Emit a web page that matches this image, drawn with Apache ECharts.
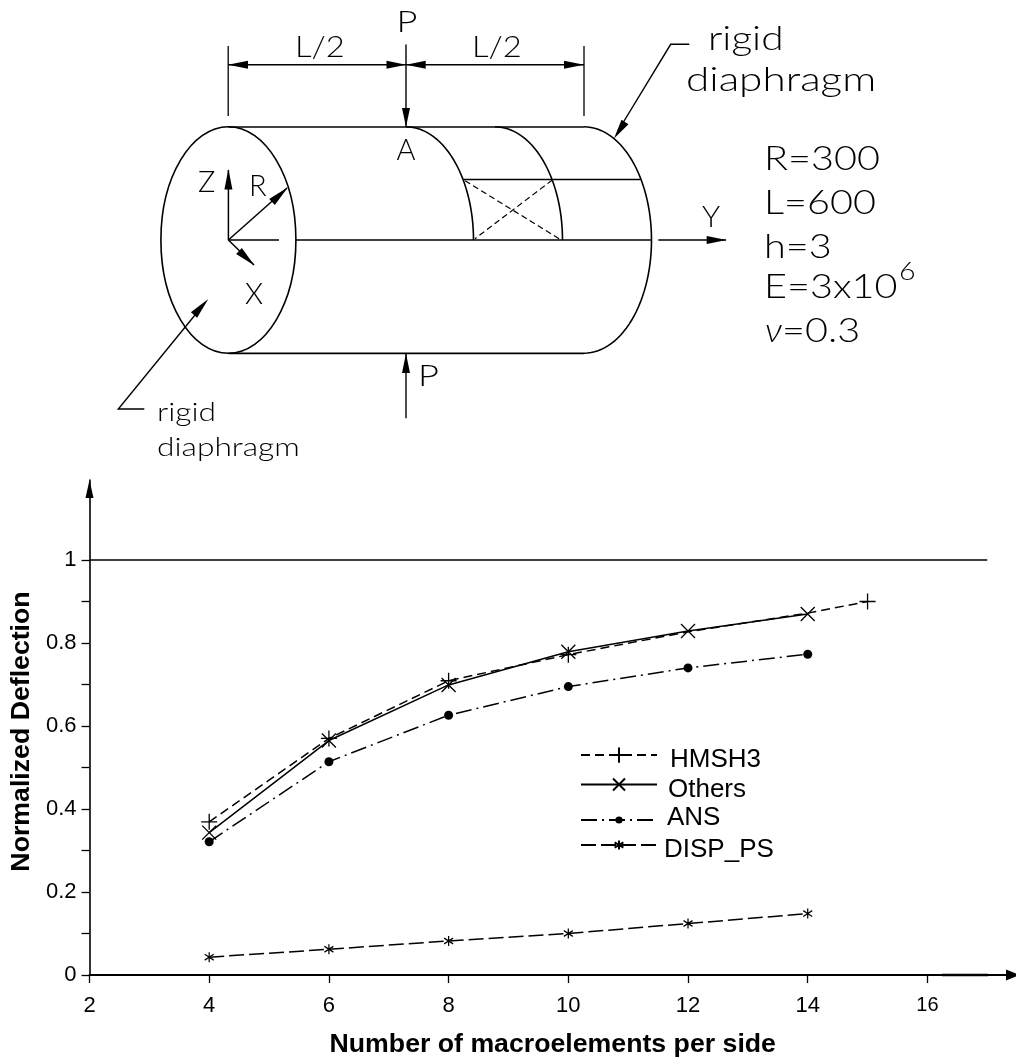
<!DOCTYPE html>
<html><head><meta charset="utf-8">
<style>html,body{margin:0;padding:0;background:#fff}#main{width:1016px;height:1059px}</style>
<script src="https://cdn.jsdelivr.net/npm/echarts@6/dist/echarts.min.js"></script>
</head><body><div id="main"></div>
<script>
const macroelements15 = [4, 6, 8, 10, 12, 14, 15];
const macroelements14 = [4, 6, 8, 10, 12, 14];
const hmsh3 = [0.369, 0.570, 0.709, 0.772, 0.827, 0.872, 0.900];
const others = [0.343, 0.565, 0.699, 0.779, 0.829, 0.870];
const ans = [0.321, 0.514, 0.626, 0.695, 0.740, 0.773];
const dispPs = [0.043, 0.062, 0.082, 0.100, 0.124, 0.148];
const hmsh3Unmarked = [12, 14];
const exactX = [2, 17];
const exactY = [1, 1];
const xTickValues = [2, 4, 6, 8, 10, 12, 14, 16];
const yTickValues = [0, 0.1, 0.2, 0.3, 0.4, 0.5, 0.6, 0.7, 0.8, 0.9, 1];
const yLabelValues = [0, 0.2, 0.4, 0.6, 0.8, 1];

const zip = (a, b) => a.map((v, i) => [v, b[i]]);
const BLACK = '#000';
const SANS = '"Liberation Sans", Arial, sans-serif';
const CAD = 'Lato, "Open Sans", sans-serif';

/* ---- schematic of the cylinder, drawn as plain graphic elements ---- */
const g = [];
const strokeStyle = (w, dash) => ({ stroke: BLACK, fill: 'none', lineWidth: w || 1.3, lineDash: dash || null });
const poly = (points, w, dash) => g.push({ type: 'polyline', shape: { points }, style: strokeStyle(w, dash), silent: true });
const arc = (cx, cy, rx, ry, from, to, w) => {
  const pts = [];
  for (let a = from; a <= to; a += 3) {
    const t = a * Math.PI / 180;
    pts.push([cx + rx * Math.sin(t), cy - ry * Math.cos(t)]);
  }
  poly(pts, w);
};
const arrow = (tx, ty, bx, by, hw) => {
  const dx = tx - bx, dy = ty - by, l = Math.hypot(dx, dy), nx = -dy / l * hw, ny = dx / l * hw;
  g.push({ type: 'polygon', shape: { points: [[tx, ty], [bx + nx, by + ny], [bx - nx, by - ny]] }, style: { fill: BLACK }, silent: true });
};
const label = (text, x, y, size, sx, extra) => g.push({
  type: 'text', x, y, scaleX: sx || 1, silent: true,
  style: Object.assign({ text, fill: BLACK, fontFamily: CAD, fontWeight: 300, fontSize: size, textAlign: 'left', textVerticalAlign: 'bottom' }, extra || {})
});

const RX = 67.5, RY = 113.2, CY = 240;
g.push({ type: 'ellipse', shape: { cx: 228.4, cy: CY, rx: RX, ry: RY }, style: strokeStyle(1.6), silent: true });
poly([[228.4, 127], [584, 127]], 1.6);
poly([[228.4, 353.4], [584, 353.4]], 1.6);
arc(584, CY, RX, RY, 0, 180, 1.6);
arc(406, CY, RX, RY, 0, 90, 1.6);
arc(495, CY, RX, RY, 0, 90, 1.6);
poly([[296, 240], [651, 240]], 1.6);
poly([[228.4, 240], [279, 240]], 1.5);
poly([[463.5, 179.5], [640.7, 179.5]], 1.5);
poly([[465, 180.7], [560, 239.3]], 1.2, [6, 3.5]);
poly([[552.3, 180], [475, 238.7]], 1.2, [6, 3.5]);
// dimensions
poly([[228, 64.7], [584, 64.7]], 1.5);
poly([[228.2, 46], [228.2, 116]], 1.3);
poly([[584, 46], [584, 116]], 1.3);
poly([[406, 44.5], [406, 127]], 1.4);
arrow(228, 64.7, 248, 64.7, 4); arrow(406, 64.7, 386.5, 64.7, 4);
arrow(406, 64.7, 425.7, 64.7, 4); arrow(584, 64.7, 564, 64.7, 4);
arrow(406, 127, 406, 108, 4);
// axes and load
poly([[228.4, 240], [228.4, 170]], 1.5);
poly([[228.4, 240], [287, 188]], 1.5);
poly([[228.4, 240], [254, 265]], 1.5);
arrow(228.4, 169, 228.4, 189.5, 4); arrow(288, 187.3, 272, 202, 4.2); arrow(254.5, 265.5, 239, 251, 4.2);
poly([[406, 418.3], [406, 354]], 1.4); arrow(406, 353.6, 406, 373, 4);
poly([[658.3, 240], [726, 240]], 1.5); arrow(726.7, 240, 706.7, 240, 4);
// leaders
poly([[689.3, 44.3], [670.7, 44.3], [618, 131]], 1.4); arrow(614, 138.5, 625, 122, 4.2);
poly([[144.3, 409], [118.3, 409], [204, 304]], 1.4); arrow(208.3, 299, 194, 315, 4.2);
// schematic text
label('P', 396.5, 37, 29, 1.25);
label('L/2', 295, 62, 29, 1.13);
label('L/2', 472, 62, 29, 1.13);
label('A', 396.5, 165, 29, 1);
label('Z', 198, 197, 29, 1);
label('R', 249, 201, 29, 1);
label('X', 245, 309, 29, 1);
label('P', 418, 391, 29, 1.25);
label('Y', 702, 232, 29, 1.05);
label('rigid', 157, 426, 26, 1.22);
label('diaphragm', 157, 461, 26, 1.22);
label('rigid', 708, 56, 33, 1.23);
label('diaphragm', 686, 97, 33, 1.28);
label('R=300', 764, 176, 33, 1.2);
label('L=600', 764, 220, 33, 1.2);
label('h=3', 764, 264, 33, 1.2);
label('E=3x10', 764, 304, 33, 1.2);
label('6', 899, 285, 26, 1.1);
label('ν', 765, 348, 33, 1.1, { fontStyle: 'italic' });
label('=0.3', 782, 348, 33, 1.2);
// heavier piece of the horizontal axis
poly([[942, 975], [988, 975]], 2.4);

/* ---- marker shapes ---- */
const PLUS = 'path://M0 5H10M5 0V10';
const CROSS = 'path://M0 0L10 10M0 10L10 0';
const STAR = 'path://M5 0V12M0 2.5L10 9.5M0 9.5L10 2.5';
const strokeMark = { color: 'none', borderColor: BLACK, borderWidth: 1.3 };

function lineSeries(name, data, symbol, size, dash, itemStyle) {
  return {
    name, type: 'line', data, symbol, symbolSize: size, showAllSymbol: true, animation: false,
    lineStyle: { color: BLACK, width: 1.5, type: dash, cap: 'butt' }, itemStyle, z: 3, silent: true
  };
}
function oneLegend(name, top, leftPad, h, vAlign, lineHeight) {
  return {
    data: [name], left: 580, top, orient: 'horizontal', padding: 0, itemWidth: 76, itemHeight: h,
    selectedMode: false, inactiveColor: BLACK,
    formatter: '{t|{name}}',
    textStyle: {
      color: BLACK, fontFamily: SANS, fontSize: 26, padding: [0, 0, 0, leftPad],
      rich: { t: { color: BLACK, fontFamily: SANS, fontSize: 26, lineHeight, verticalAlign: vAlign } }
    }
  };
}
const hmshData = zip(macroelements15, hmsh3).map(p =>
  hmsh3Unmarked.includes(p[0]) ? { value: p, symbol: 'none' } : { value: p });

const chart = echarts.init(document.getElementById('main'), null, { renderer: 'canvas' });
chart.setOption({
  animation: false,
  backgroundColor: '#fff',
  grid: { left: 89.5, top: 480, width: 926.5, height: 495, containLabel: false, outerBoundsMode: 'none' },
  legend: [
    oneLegend('HMSH3', 745, 8, 19, 'bottom', 36),
    oneLegend('Others', 776, 6, 15, 'bottom', 36),
    oneLegend('ANS', 805, 5, 9, 'top', 30),
    oneLegend('DISP_PS', 837, 2, 11, 'bottom', 36)
  ],
  xAxis: {
    type: 'value', min: 2, max: 17.48, interval: 2,
    name: 'Number of macroelements per side', nameLocation: 'middle', nameGap: 56,
    nameTextStyle: { color: BLACK, fontFamily: SANS, fontWeight: 'bold', fontSize: 26.7 },
    axisLine: { show: true, onZero: false, lineStyle: { color: BLACK, width: 1.8 }, symbol: ['none', 'triangle'], symbolSize: [11, 14], symbolOffset: [0, -3] },
    axisTick: { show: true, length: 8, lineStyle: { color: BLACK, width: 1.3 }, customValues: xTickValues },
    axisLabel: {
      color: BLACK, fontFamily: SANS, fontSize: 22, margin: 20, customValues: xTickValues,
      formatter: v => (v === 16 ? '{s|16}' : String(v)),
      rich: { s: { fontSize: 20, fontFamily: SANS, color: BLACK, padding: [0, 0, 2, 0] } }
    },
    splitLine: { show: false }
  },
  yAxis: {
    type: 'value', min: 0, max: 1.1928, interval: 0.1,
    name: 'Normalized Deflection', nameLocation: 'middle', nameGap: 52, nameRotate: 90,
    nameTextStyle: { color: BLACK, fontFamily: SANS, fontWeight: 'bold', fontSize: 26.7, padding: [0, 8, 0, 0] },
    axisLine: { show: true, onZero: false, lineStyle: { color: BLACK, width: 1.6 }, symbol: ['none', 'triangle'], symbolSize: [8, 18], symbolOffset: [0, -9] },
    axisTick: { show: true, length: 8, lineStyle: { color: BLACK, width: 1.3 }, customValues: yTickValues },
    axisLabel: { color: BLACK, fontFamily: SANS, fontSize: 22, margin: 13, customValues: yLabelValues, padding: [4, 0, 0, 0] },
    splitLine: { show: false }
  },
  series: [
    { name: 'Exact', type: 'line', data: zip(exactX, exactY), symbol: 'none', lineStyle: { color: BLACK, width: 1.5 }, silent: true, z: 2 },
    lineSeries('HMSH3', hmshData, PLUS, 16, [9, 5], strokeMark),
    lineSeries('Others', zip(macroelements14, others), CROSS, 14, 'solid', strokeMark),
    lineSeries('ANS', zip(macroelements14, ans), 'circle', 9, [16, 5, 2, 5], { color: BLACK }),
    lineSeries('DISP_PS', zip(macroelements14, dispPs), STAR, [9, 10], [15, 5], strokeMark)
  ],
  graphic: { elements: g }
});
</script></body></html>
